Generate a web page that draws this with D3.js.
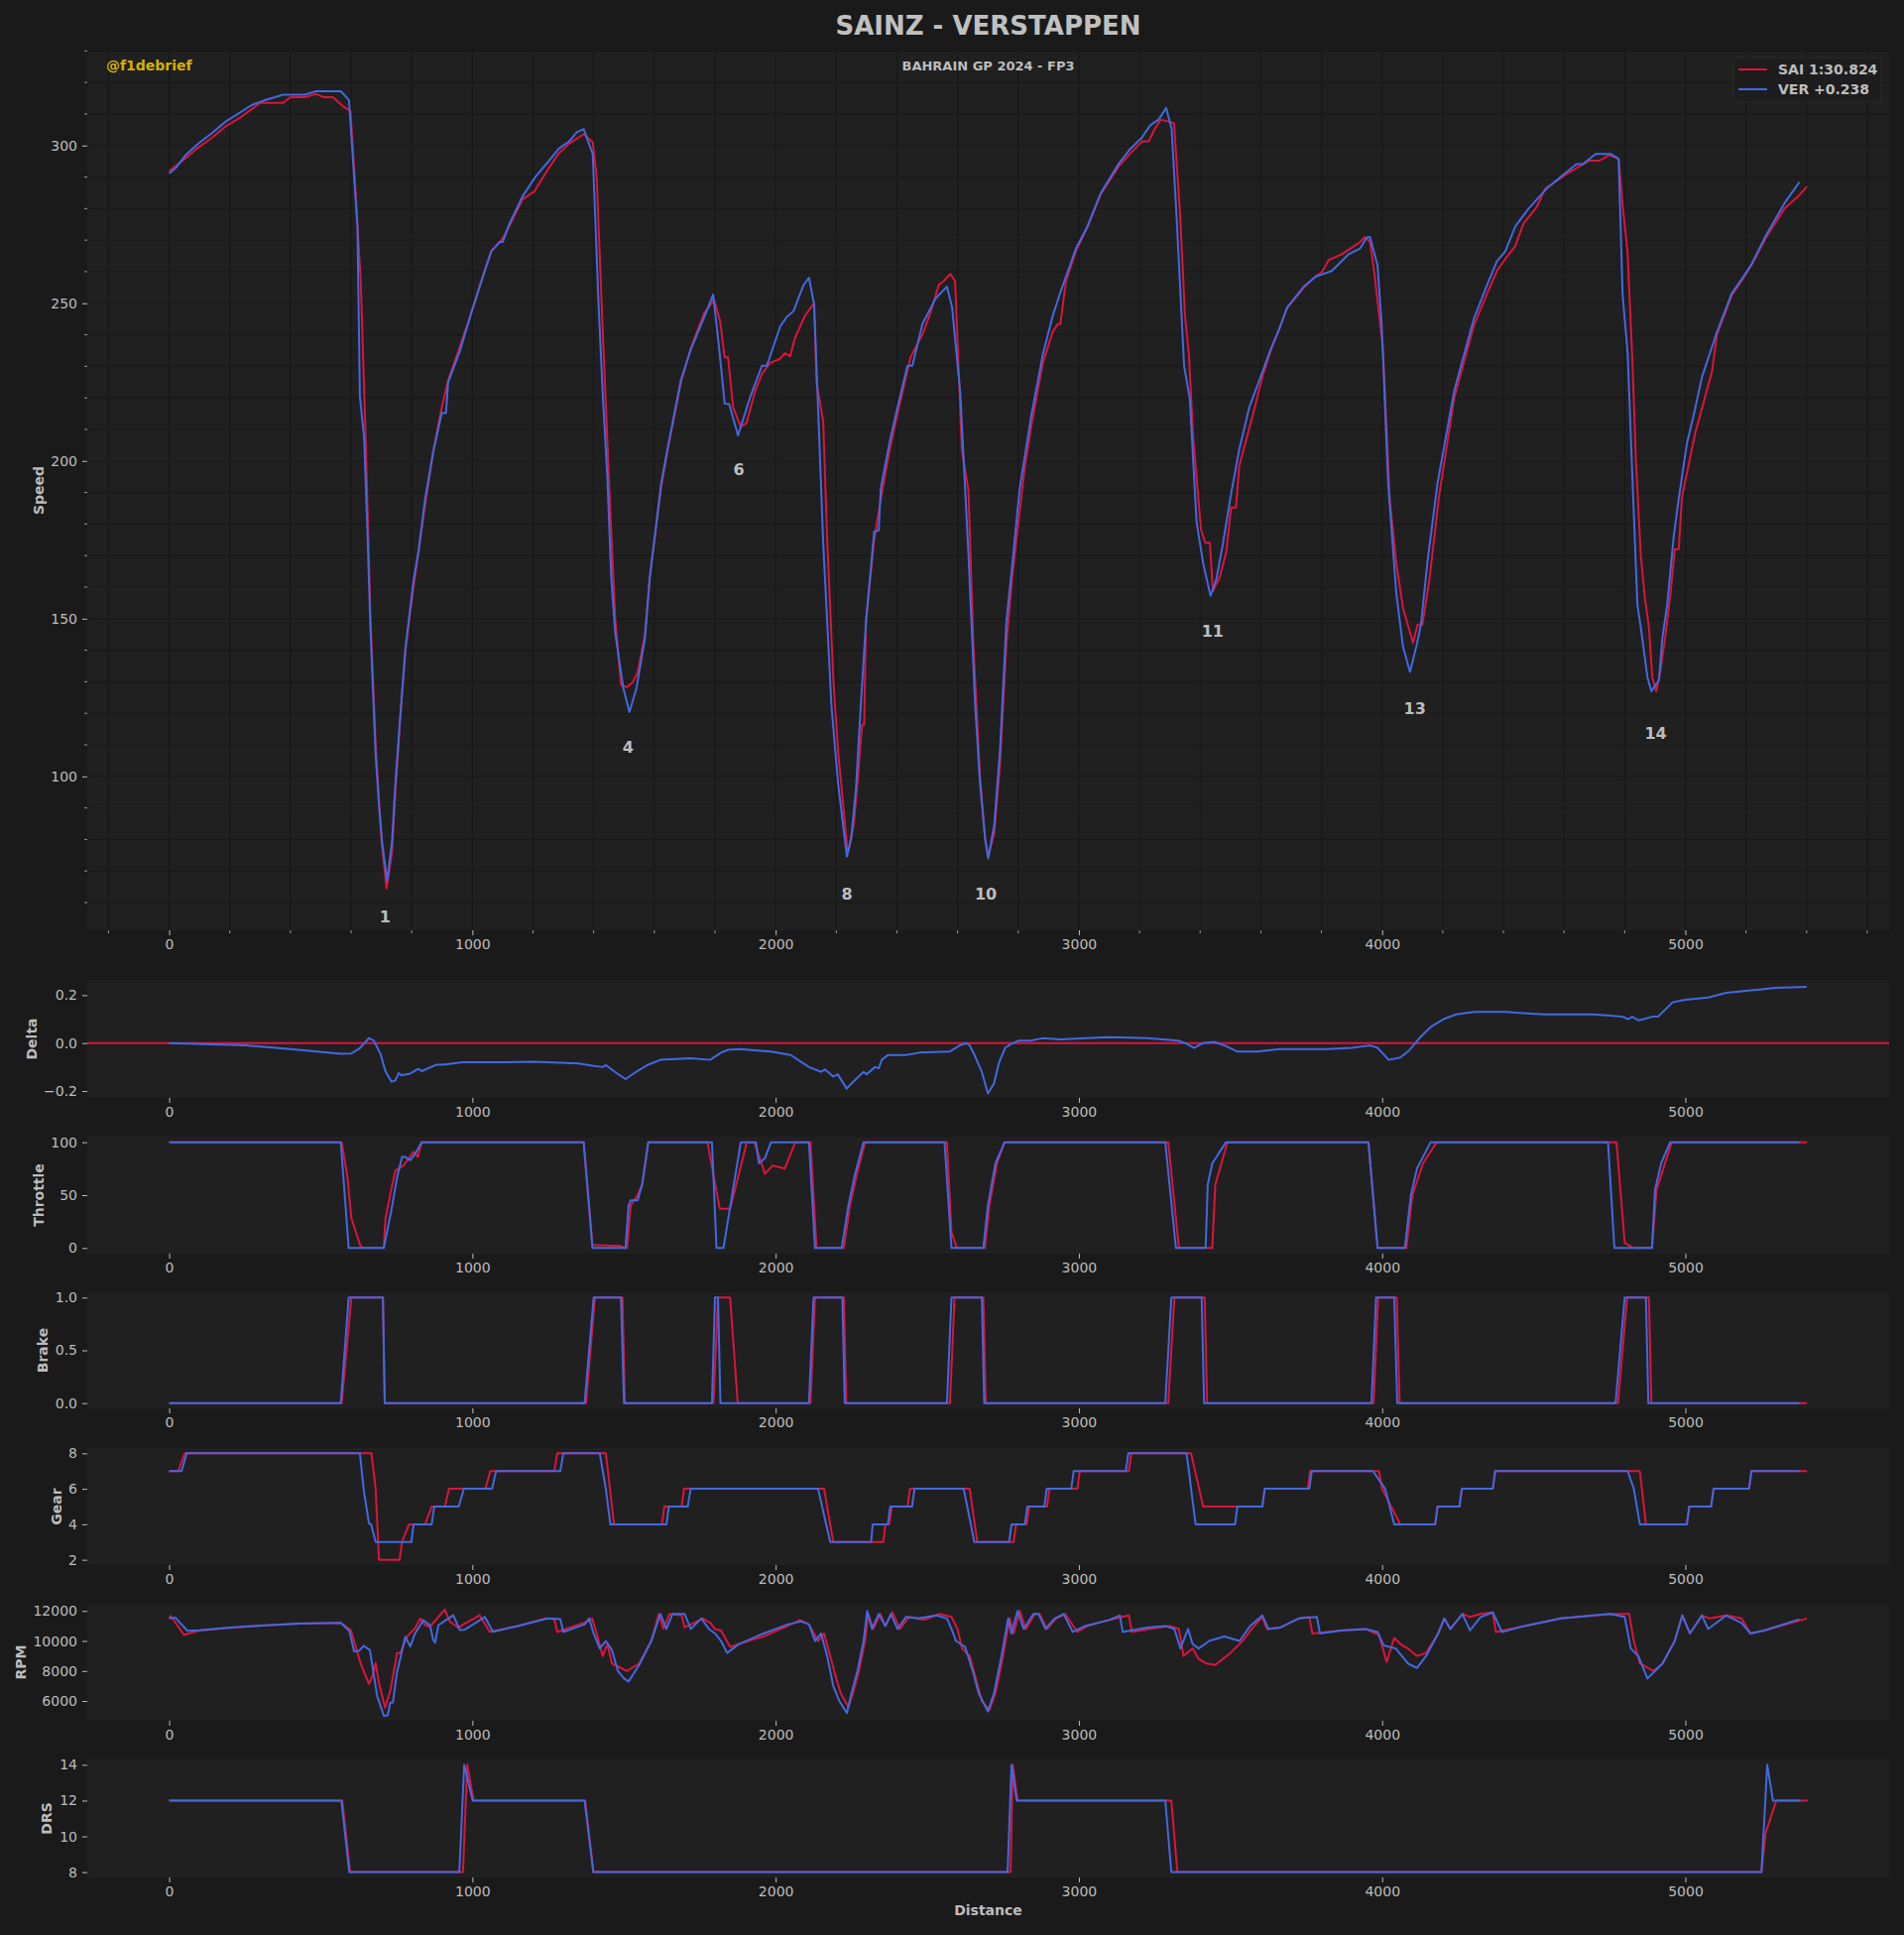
<!DOCTYPE html>
<html>
<head>
<meta charset="utf-8">
<script src="https://cdn.jsdelivr.net/npm/d3@7"></script>
<style>
  html, body { margin: 0; padding: 0; background: #1a1a1a; }
  svg text { font-family: "DejaVu Sans", sans-serif; }
</style>
</head>
<body>
<div id="vis"></div>
<script>
// ---- data (distance in m) ----
const distTicks = [0, 1000, 2000, 3000, 4000, 5000];

const saiSpeed = [[0,291.9],[22,293.5],[54,296],[98,299.5],[142,302.5],[185,306],[229,308.5],[272,311.5],[300,313.5],[376,313.5],[400,315.3],[447,315.3],[485,316.3],[510,315.3],[540,315.3],[575,312.3],[598,311],[615,285],[632,256.7],[648,207],[664,150],[681,110],[700,80],[717,64.4],[735,76],[746,95],[762,118],[779,140],[806,160],[822,171],[844,186],[871,203],[899,217],[920,225.5],[958,236],[1002,248.5],[1029,257],[1062,266.5],[1100,270.5],[1122,274.5],[1166,283],[1204,285.4],[1230,289.5],[1253,293],[1285,297.5],[1318,300.5],[1367,303.6],[1397,301],[1410,290],[1427,247.9],[1454,186],[1471,150],[1490,129],[1510,128.3],[1530,130],[1545,133],[1569,145],[1585,163],[1623,192],[1645,204],[1688,225],[1721,236],[1765,247],[1797,251],[1817,244.3],[1832,232.9],[1843,232.9],[1860,217],[1885,210.8],[1904,212],[1933,222.3],[1955,227.6],[1982,231.1],[2015,232.4],[2031,234.2],[2048,233.2],[2064,239],[2097,246.1],[2127,250],[2135,224.9],[2157,212.5],[2170,175],[2190,131.4],[2206,108],[2238,75.5],[2258,85],[2270,98],[2285,116.4],[2292,116.4],[2298,149],[2325,175],[2347,188],[2375,203],[2402,215],[2445,232.9],[2484,240],[2511,247],[2538,255.8],[2554,257],[2576,259.3],[2592,257],[2614,203.7],[2636,190.5],[2652,142],[2674,100],[2691,80],[2701,74.5],[2721,82],[2740,104],[2761,142],[2780,163],[2821,197.6],[2843,211],[2881,231],[2914,241],[2930,243.4],[2939,243.4],[2957,256.7],[2990,266.5],[3028,274],[3072,284.5],[3132,293.5],[3170,297.5],[3208,301.3],[3230,301.3],[3250,305.2],[3270,308.2],[3300,307.5],[3314,307],[3333,279.6],[3350,246.1],[3363,233.7],[3377,207.3],[3403,178.1],[3417,174.1],[3432,174.1],[3442,158.7],[3464,163],[3486,171.1],[3502,185.2],[3518,185.2],[3529,198.4],[3573,214.3],[3606,227],[3633,235],[3660,241.5],[3687,248.5],[3742,255],[3780,258.4],[3802,260],[3824,263.7],[3867,265.5],[3927,269.4],[3943,271],[3960,269.5],[3976,258.4],[4003,235.5],[4025,187.9],[4047,167.5],[4069,153.4],[4102,142.3],[4117,148.1],[4133,148.1],[4156,162.3],[4188,189],[4238,220],[4303,243],[4346,253],[4379,260.3],[4406,264],[4439,268.1],[4466,275.2],[4510,280.5],[4537,286.2],[4608,291],[4684,295.2],[4717,295.2],[4749,297],[4780,295.8],[4793,281.4],[4810,265.5],[4826,230.2],[4837,200.2],[4853,170.2],[4866,157],[4880,147.3],[4891,131.4],[4904,127],[4917,133],[4933,143.7],[4951,157.9],[4965,172],[4978,172],[4989,188.7],[5033,209],[5088,228.4],[5104,240],[5153,252.5],[5185,257],[5218,262],[5267,271],[5327,280],[5376,284.3],[5401,287]];

const verSpeed = [[0,291.1],[22,292.9],[54,296.9],[98,300.8],[142,304],[185,307.5],[229,310.2],[272,312.8],[316,314.4],[376,316.1],[447,316.1],[485,317.2],[566,317.2],[593,314.4],[621,274.3],[629,220.5],[643,207.3],[654,177.3],[664,146.4],[681,106.7],[692,90.8],[703,78.5],[719,67],[735,79.3],[746,97.8],[762,119],[779,140.2],[806,162.3],[822,171.1],[844,187.9],[871,202.9],[899,215.2],[913,215.2],[920,224.9],[958,234.6],[1002,248.7],[1029,256.7],[1062,266.4],[1090,269.4],[1100,269.4],[1122,275.2],[1166,284],[1209,290.2],[1253,295.2],[1285,299],[1318,301.2],[1345,304.3],[1367,305.2],[1397,297.3],[1416,250],[1430,221],[1445,195],[1458,163],[1471,145.5],[1498,127.9],[1518,120.4],[1541,127.9],[1569,143.7],[1585,163.1],[1623,193.1],[1645,204.6],[1688,225.8],[1721,235.5],[1765,245.7],[1794,252.8],[1814,235.5],[1832,218.2],[1847,218],[1876,208.1],[1917,220.5],[1955,230.2],[1971,230.2],[2015,242.6],[2037,245.7],[2059,247.5],[2092,255.8],[2110,258.1],[2127,249.6],[2141,214.3],[2157,173.8],[2184,122.5],[2206,97.8],[2235,74.6],[2249,80.2],[2265,96.1],[2282,124.3],[2298,149],[2325,177.6],[2340,178],[2347,191.4],[2375,205.5],[2402,217],[2435,230.2],[2451,230.2],[2484,243.4],[2527,251.4],[2565,255.3],[2582,248.7],[2609,221.4],[2636,170.2],[2658,122.5],[2674,97.8],[2691,80.2],[2701,74],[2721,84.6],[2740,108.4],[2761,149],[2780,166.7],[2805,191.4],[2843,214.3],[2881,233.7],[2914,246.1],[2941,254],[2974,262.9],[2990,267.3],[3028,274.3],[3072,284.9],[3132,294.3],[3170,299],[3208,302.5],[3235,306.4],[3263,308.2],[3288,311.9],[3306,305.2],[3322,277.9],[3347,230.2],[3366,219.6],[3388,180.8],[3410,167.5],[3434,157.3],[3453,162.3],[3475,173.7],[3502,189.6],[3529,203.7],[3562,217],[3606,228.4],[3633,235.5],[3660,241.7],[3687,248.7],[3742,255.3],[3780,258.4],[3834,260.2],[3889,265.5],[3927,267.3],[3949,270.8],[3960,271],[3985,262],[3998,244.3],[4020,193.1],[4036,172],[4047,157.9],[4069,141.1],[4092,133.1],[4115,142],[4128,148.1],[4150,168.4],[4183,193.1],[4238,222.3],[4303,245.2],[4346,255.8],[4379,263.4],[4406,266.4],[4439,274.3],[4483,280],[4542,286.3],[4608,291.6],[4641,294.1],[4662,294.1],[4704,297.3],[4755,297.3],[4780,295.8],[4793,253.1],[4810,233.7],[4826,193.1],[4842,154.3],[4853,147.3],[4875,131.4],[4888,127],[4913,130.5],[4924,143.7],[4940,154.3],[4962,176.4],[4978,187.9],[5005,205.5],[5027,214.3],[5055,226.7],[5104,240.8],[5153,253.1],[5185,257.5],[5218,262.3],[5267,271.7],[5327,281.7],[5376,288.4]];

const verDelta = [[0,0],[256,-0.01],[400,-0.025],[566,-0.045],[600,-0.044],[630,-0.02],[659,0.021],[675,0.01],[697,-0.045],[713,-0.117],[733,-0.161],[746,-0.156],[757,-0.125],[766,-0.135],[795,-0.127],[822,-0.107],[833,-0.117],[882,-0.09],[904,-0.09],[969,-0.08],[1078,-0.08],[1200,-0.078],[1350,-0.085],[1400,-0.095],[1430,-0.1],[1440,-0.092],[1470,-0.12],[1505,-0.15],[1540,-0.12],[1580,-0.09],[1620,-0.07],[1720,-0.063],[1784,-0.07],[1820,-0.04],[1843,-0.028],[1884,-0.025],[1950,-0.032],[1985,-0.035],[2050,-0.05],[2110,-0.1],[2150,-0.12],[2163,-0.11],[2190,-0.14],[2205,-0.13],[2234,-0.19],[2265,-0.15],[2290,-0.12],[2300,-0.13],[2328,-0.1],[2340,-0.105],[2350,-0.07],[2370,-0.05],[2430,-0.05],[2474,-0.04],[2575,-0.035],[2607,-0.01],[2630,0],[2640,-0.01],[2656,-0.05],[2680,-0.12],[2700,-0.21],[2720,-0.17],[2737,-0.08],[2757,-0.02],[2775,-0.005],[2802,0.01],[2840,0.01],[2880,0.02],[2940,0.015],[3022,0.02],[3103,0.025],[3225,0.02],[3327,0.01],[3350,0],[3380,-0.02],[3410,0],[3446,0.005],[3480,-0.01],[3522,-0.035],[3590,-0.035],[3663,-0.025],[3744,-0.025],[3820,-0.025],[3900,-0.02],[3960,-0.01],[3985,-0.02],[4022,-0.07],[4060,-0.06],[4090,-0.03],[4130,0.03],[4163,0.07],[4203,0.1],[4244,0.12],[4305,0.13],[4407,0.13],[4530,0.12],[4690,0.12],[4752,0.115],[4792,0.11],[4812,0.1],[4825,0.11],[4845,0.095],[4864,0.1],[4890,0.11],[4910,0.11],[4930,0.135],[4958,0.17],[4995,0.18],[5075,0.19],[5136,0.21],[5217,0.22],[5298,0.23],[5400,0.235]];

const saiThrottle = [[0,100],[569,100],[588,67],[601,28],[631,2],[641,0],[708,0],[713,27],[730,52],[746,73],[773,78],[806,91],[820,86],[833,100],[1367,100],[1396,3],[1490,2],[1500,0],[1510,0],[1522,40],[1545,50],[1560,60],[1580,100],[1775,100],[1816,37],[1850,37],[1905,100],[1930,100],[1965,70],[1990,78],[2030,75],[2065,100],[2115,100],[2135,0],[2225,0],[2245,40],[2268,70],[2295,100],[2565,100],[2580,15],[2598,0],[2690,0],[2705,40],[2730,80],[2755,100],[3295,100],[3330,0],[3440,0],[3450,60],[3460,70],[3490,100],[3955,100],[3985,0],[4080,0],[4100,50],[4135,80],[4180,100],[4773,100],[4800,5],[4830,0],[4890,0],[4905,55],[4955,100],[5401,100]];
const verThrottle = [[0,100],[566,100],[592,0],[708,0],[733,36],[752,67],[768,86],[779,86],[795,83],[811,89],[833,100],[1367,100],[1396,0],[1505,0],[1515,40],[1522,45],[1545,45],[1560,60],[1580,100],[1790,100],[1805,0],[1828,0],[1885,100],[1935,100],[1945,80],[1965,85],[1985,100],[2110,100],[2130,0],[2218,0],[2240,40],[2262,70],[2290,100],[2557,100],[2580,0],[2685,0],[2700,40],[2725,80],[2755,100],[3285,100],[3320,0],[3418,0],[3425,60],[3440,80],[3485,100],[3955,100],[3985,0],[4075,0],[4095,50],[4115,75],[4160,100],[4745,100],[4766,0],[4890,0],[4900,55],[4920,80],[4950,100],[5376,100]];

const saiBrake = [[0,0],[569,0],[601,1],[705,1],[711,0],[1375,0],[1404,1],[1495,1],[1503,0],[1795,0],[1810,1],[1850,1],[1875,0],[2115,0],[2130,1],[2225,1],[2233,0],[2575,0],[2590,1],[2685,1],[2693,0],[3295,0],[3315,1],[3415,1],[3423,0],[3972,0],[3987,1],[4048,1],[4058,0],[4778,0],[4808,1],[4880,1],[4888,0],[5401,0]];
const verBrake = [[0,0],[566,0],[592,1],[705,1],[711,0],[1370,0],[1400,1],[1490,1],[1500,0],[1790,0],[1800,1],[1810,1],[1818,0],[2110,0],[2125,1],[2220,1],[2228,0],[2565,0],[2580,1],[2680,1],[2688,0],[3285,0],[3305,1],[3405,1],[3413,0],[3965,0],[3980,1],[4040,1],[4050,0],[4770,0],[4800,1],[4870,1],[4878,0],[5376,0]];

const saiGear = [[0,7],[30,7],[51,8],[667,8],[681,6],[692,2],[760,2],[768,3],[791,4],[844,4],[866,5],[909,5],[923,6],[1043,6],[1059,7],[1270,7],[1280,8],[1440,8],[1447,7],[1467,4],[1625,4],[1633,5],[1690,5],[1698,6],[2160,6],[2190,3],[2355,3],[2362,4],[2375,4],[2383,5],[2435,5],[2443,6],[2640,6],[2665,3],[2785,3],[2793,4],[2828,4],[2836,5],[2895,5],[2903,6],[2995,6],[3003,7],[3165,7],[3173,8],[3370,8],[3410,5],[3605,5],[3613,6],[3755,6],[3763,7],[3990,7],[4000,6],[4060,4],[4175,4],[4183,5],[4255,5],[4263,6],[4365,6],[4373,7],[4850,7],[4870,4],[5005,4],[5013,5],[5085,5],[5093,6],[5210,6],[5218,7],[5401,7]];
const verGear = [[0,7],[41,7],[58,8],[629,8],[642,5.9],[659,4.05],[666,4],[681,3],[799,3],[806,4],[866,4],[874,5],[955,5],[972,6],[1065,6],[1078,7],[1290,7],[1300,8],[1420,8],[1430,7],[1440,6],[1455,4],[1640,4],[1648,5],[1710,5],[1720,6],[2140,6],[2180,3],[2315,3],[2320,4],[2370,4],[2378,5],[2450,5],[2458,6],[2620,6],[2632,5],[2655,3],[2770,3],[2778,4],[2822,4],[2830,5],[2886,5],[2894,6],[2975,6],[2983,7],[3155,7],[3163,8],[3355,8],[3363,7],[3370,6],[3385,4],[3515,4],[3523,5],[3605,5],[3613,6],[3760,6],[3768,7],[3970,7],[4010,6],[4040,4],[4175,4],[4183,5],[4255,5],[4263,6],[4365,6],[4373,7],[4810,7],[4830,6],[4850,4],[5005,4],[5013,5],[5085,5],[5093,6],[5210,6],[5218,7],[5376,7]];

const saiRpm = [[0,11500],[5,11670],[49,10400],[98,10700],[200,10880],[320,11050],[430,11160],[566,11210],[599,10725],[631,8530],[659,7140],[670,7650],[681,8530],[692,7200],[712,5560],[729,6660],[746,8530],[751,9190],[762,9190],[784,10290],[811,10840],[828,11495],[844,11055],[860,10945],[909,12090],[926,11275],[953,10900],[1024,11710],[1057,10615],[1150,11000],[1240,11500],[1270,11450],[1280,10600],[1380,11300],[1395,11500],[1410,10500],[1430,9000],[1445,9800],[1460,8500],[1480,8300],[1510,8000],[1550,8500],[1590,10000],[1615,11800],[1630,10800],[1650,11800],[1690,11700],[1700,10900],[1760,11500],[1785,11200],[1800,10800],[1820,10700],[1850,9600],[1880,9800],[1960,10300],[2040,11000],[2080,11400],[2110,11100],[2140,10000],[2160,10500],[2180,9000],[2200,7500],[2215,6500],[2240,5600],[2255,6500],[2275,8000],[2295,10000],[2305,11800],[2322,10800],[2345,11800],[2362,11000],[2385,11900],[2410,10800],[2440,11600],[2490,11400],[2540,11800],[2580,11600],[2600,10800],[2615,9500],[2640,9000],[2660,7500],[2680,6000],[2705,5400],[2725,6500],[2750,9000],[2772,11500],[2785,10500],[2805,12000],[2825,10800],[2855,11800],[2870,11800],[2895,10800],[2925,11500],[2955,11800],[2995,10600],[3030,11000],[3100,11400],[3165,11700],[3175,10600],[3230,10800],[3300,11000],[3330,10800],[3345,9000],[3375,9500],[3395,8800],[3420,8500],[3450,8400],[3500,9200],[3540,10000],[3570,10800],[3605,11600],[3620,10800],[3665,10900],[3725,11500],[3760,11600],[3770,10500],[3865,10700],[3945,10800],[3990,10400],[4015,8600],[4040,10200],[4060,9800],[4085,9500],[4115,9000],[4145,9200],[4185,10500],[4205,11500],[4225,10800],[4265,11800],[4290,11600],[4325,11800],[4365,11900],[4375,10600],[4470,11000],[4590,11500],[4760,11800],[4815,11800],[4830,10000],[4850,8500],[4895,8000],[4925,8500],[4965,10000],[4990,11700],[5015,10500],[5055,11700],[5080,11500],[5135,11700],[5185,11500],[5215,10500],[5260,10700],[5401,11500]];
const verRpm = [[0,11500],[20,11560],[60,10680],[100,10720],[200,10900],[320,11050],[430,11160],[566,11210],[594,10680],[610,9300],[626,9340],[642,9670],[662,9400],[686,6330],[708,5010],[721,5050],[729,5890],[738,5900],[751,7870],[779,10290],[795,9630],[811,10500],[838,11380],[860,11055],[871,10070],[877,9890],[888,11055],[937,11710],[959,10725],[975,10750],[1041,11600],[1068,10615],[1150,11000],[1250,11500],[1290,11450],[1300,10600],[1370,11100],[1385,11500],[1400,10500],[1420,9500],[1440,10000],[1460,9400],[1480,8000],[1500,7500],[1515,7300],[1550,8400],[1590,10000],[1620,11800],[1640,10800],[1660,11800],[1700,11800],[1720,10800],[1755,11500],[1780,10800],[1800,10500],[1820,10000],[1840,9200],[1880,9800],[1960,10500],[2040,11100],[2085,11300],[2110,11100],[2130,10000],[2150,10500],[2170,9000],[2190,7000],[2210,6000],[2235,5200],[2250,6500],[2270,8000],[2290,10000],[2302,12000],[2318,10800],[2340,11800],[2362,11000],[2380,11800],[2402,10800],[2430,11600],[2470,11500],[2530,11700],[2565,11500],[2580,10800],[2595,10000],[2625,9600],[2650,8000],[2670,6500],[2700,5300],[2720,6500],[2745,9000],[2767,11500],[2778,10500],[2798,12000],[2818,10800],[2850,11800],[2867,11800],[2890,10800],[2920,11500],[2950,11800],[2980,10600],[3020,11000],[3100,11400],[3135,11700],[3145,10600],[3225,10900],[3285,11000],[3315,10800],[3335,9500],[3360,10800],[3375,9800],[3395,9500],[3430,10000],[3480,10300],[3530,10000],[3565,11000],[3605,11700],[3625,10800],[3665,10900],[3725,11500],[3785,11600],[3795,10500],[3865,10700],[3945,10800],[3985,10600],[4005,9700],[4045,9500],[4085,8500],[4115,8200],[4145,9000],[4185,10500],[4205,11500],[4225,10800],[4265,11800],[4290,10700],[4325,11600],[4365,11900],[4395,10600],[4470,11000],[4590,11500],[4750,11800],[4800,11600],[4820,9500],[4845,9000],[4875,7500],[4925,8500],[4965,10000],[4990,11700],[5015,10500],[5055,11700],[5075,10800],[5135,11700],[5185,11200],[5215,10500],[5260,10700],[5376,11450]];

const saiDrs = [[0,12],[571,12],[597,8],[969,8],[983,14],[1004,12],[1372,12],[1399,8],[2775,8],[2782,14],[2798,12],[3305,12],[3325,8],[5251,8],[5265,10.2],[5300,12],[5404,12]];
const verDrs = [[0,12],[568,12],[594,8],[957,8],[973,14],[1001,12],[1370,12],[1399,8],[2765,8],[2778,14],[2795,12],[3285,12],[3305,8],[5251,8],[5270,14],[5289,12],[5380,12]];

const cornerNames = ["1", "4", "6", "8", "10", "11", "13", "14"];
const cornerDist = [712, 1513, 1879, 2235, 2693, 3441, 4108, 4902];
const cornerSpeed = [55.6, 109.3, 197.4, 62.8, 62.8, 146.1, 121.6, 113.7];

const drivers = ["SAI 1:30.824", "VER +0.238"];

// ---- drawing ----
const W = 1920, H = 1951;
const RED = "#dc143c", BLUE = "#4169e1";
const TXT = "#bdbdbd";
const left = 88, right = 1905;

const svg = d3.select("#vis").append("svg")
  .attr("width", W).attr("height", H)
  .style("display", "block");
svg.append("rect").attr("width", W).attr("height", H).attr("fill", "#1a1a1a");

const x = d3.scaleLinear().domain([-270, 5672]).range([left, right]);

var panels = [
  {label: "Speed", top: 51, bottom: 938, domain: [51.2, 330.1], ticks: [100,150,200,250,300], fmt: d3.format("d"), minor: true, labelX: 39, sai: saiSpeed, ver: verSpeed},
  {label: "Delta", top: 988, bottom: 1107, domain: [-0.2288, 0.2636], ticks: [-0.2,0,0.2], fmt: d3.format(".1f"), labelX: 32, ver: verDelta},
  {label: "Throttle", top: 1146, bottom: 1264, domain: [-5.3, 105.3], ticks: [0,50,100], fmt: d3.format("d"), labelX: 39, sai: saiThrottle, ver: verThrottle},
  {label: "Brake", top: 1303, bottom: 1420, domain: [-0.05, 1.05], ticks: [0,0.5,1], fmt: d3.format(".1f"), labelX: 43, sai: saiBrake, ver: verBrake},
  {label: "Gear", top: 1460, bottom: 1578, domain: [1.7, 8.3], ticks: [2,4,6,8], fmt: d3.format("d"), labelX: 57, sai: saiGear, ver: verGear},
  {label: "RPM", top: 1617, bottom: 1735, domain: [4682, 12481], ticks: [6000,8000,10000,12000], fmt: d3.format("d"), labelX: 21, sai: saiRpm, ver: verRpm},
  {label: "DRS", top: 1774, bottom: 1893, domain: [7.7, 14.3], ticks: [8,10,12,14], fmt: d3.format("d"), labelX: 47, sai: saiDrs, ver: verDrs}
];

panels.forEach(p => {
  var y = d3.scaleLinear().domain(p.domain).range([p.bottom, p.top]);
  var g = svg.append("g");

  g.append("rect")
    .attr("x", left).attr("y", p.top)
    .attr("width", right - left).attr("height", p.bottom - p.top)
    .attr("fill", "#202020");

  if (p.minor) {
    var xg = d3.range(-200, 5601, 200);
    var yg = d3.range(60, 331, 10);
    g.selectAll(".vg").data(xg).join("line")
      .attr("x1", d => x(d)).attr("x2", d => x(d))
      .attr("y1", p.top).attr("y2", p.bottom)
      .attr("stroke", "#181818").attr("stroke-width", 1.2);
    g.selectAll(".hg").data(yg).join("line")
      .attr("x1", left).attr("x2", right)
      .attr("y1", d => y(d)).attr("y2", d => y(d))
      .attr("stroke", "#181818").attr("stroke-width", 1.2);
    // minor ticks
    g.selectAll(".mx").data(xg.filter(d => d % 1000 != 0)).join("line")
      .attr("x1", d => x(d)).attr("x2", d => x(d))
      .attr("y1", p.bottom).attr("y2", p.bottom + 3)
      .attr("stroke", "#9a9a9a").attr("stroke-width", 1);
    g.selectAll(".my").data(yg.filter(d => d % 50 != 0)).join("line")
      .attr("x1", left - 3).attr("x2", left)
      .attr("y1", d => y(d)).attr("y2", d => y(d))
      .attr("stroke", "#9a9a9a").attr("stroke-width", 1);
  }

  // y axis
  var ya = d3.axisLeft(y).tickValues(p.ticks).tickSize(5).tickPadding(5)
    .tickFormat(d => p.fmt(d).replace("-", "\u2212"));
  var yAxis = g.append("g").attr("transform", "translate(" + left + ",0)").call(ya);
  // x axis
  var xa = d3.axisBottom(x).tickValues(distTicks).tickSize(5).tickPadding(4)
    .tickFormat(d3.format("d"));
  var xAxis = g.append("g").attr("transform", "translate(0," + p.bottom + ")").call(xa);
  [yAxis, xAxis].forEach(a => {
    a.select(".domain").remove();
    a.selectAll(".tick line").attr("stroke", "#bdbdbd").attr("stroke-width", 1);
    a.selectAll(".tick text").attr("fill", TXT).style("font-size", "14px")
      .style("font-family", "DejaVu Sans");
  });

  g.append("text")
    .attr("transform", "translate(" + p.labelX + "," + (p.top + p.bottom) / 2 + ") rotate(-90)")
    .attr("text-anchor", "middle").attr("dominant-baseline", "central")
    .attr("fill", TXT).style("font-size", "14px").style("font-weight", "bold")
    .text(p.label);

  var clip = "clip" + p.label;
  g.append("clipPath").attr("id", clip).append("rect")
    .attr("x", left).attr("y", p.top).attr("width", right - left).attr("height", p.bottom - p.top);

  var line = d3.line().x(d => x(d[0])).y(d => y(d[1]));

  if (p.label == "Delta") {
    g.append("line").attr("x1", left).attr("x2", right)
      .attr("y1", y(0)).attr("y2", y(0))
      .attr("stroke", RED).attr("stroke-width", 2);
  } else {
    g.append("path").datum(p.sai)
      .attr("clip-path", "url(#" + clip + ")")
      .attr("fill", "none").attr("stroke", RED).attr("stroke-width", 2)
      .attr("stroke-linejoin", "round")
      .attr("d", line);
  }
  g.append("path").datum(p.ver)
    .attr("clip-path", "url(#" + clip + ")")
    .attr("fill", "none").attr("stroke", BLUE).attr("stroke-width", 2)
    .attr("stroke-linejoin", "round")
    .attr("d", line);

  if (p.label == "Speed") {
    g.selectAll(".corner").data(cornerNames).join("text")
      .attr("x", (d, i) => x(cornerDist[i]))
      .attr("y", (d, i) => y(cornerSpeed[i]))
      .attr("text-anchor", "middle").attr("dominant-baseline", "central")
      .attr("fill", "#bdbdbd").style("font-size", "16px").style("font-weight", "bold")
      .text(d => d);

    g.append("text").attr("x", 107).attr("y", 71)
      .attr("fill", "#d4b106").style("font-size", "14px").style("font-weight", "bold")
      .text("@f1debrief");
    g.append("text").attr("x", (left + right) / 2).attr("y", 71)
      .attr("text-anchor", "middle")
      .attr("fill", TXT).style("font-size", "13px").style("font-weight", "bold")
      .text("BAHRAIN GP 2024 - FP3");

    // legend
    var lg = g.append("g");
    lg.append("rect").attr("x", 1748).attr("y", 58).attr("width", 149).attr("height", 45)
      .attr("rx", 2).attr("fill", "#1d1d1d").attr("stroke", "#2a2a2a");
    [RED, BLUE].forEach((c, i) => {
      lg.append("line").attr("x1", 1753).attr("x2", 1782)
        .attr("y1", 70 + i * 20).attr("y2", 70 + i * 20)
        .attr("stroke", c).attr("stroke-width", 2);
      lg.append("text").attr("x", 1793).attr("y", 75 + i * 20)
        .attr("fill", TXT).style("font-size", "14px").style("font-weight", "bold")
        .text(drivers[i]);
    });
  }
});

// suptitle sits over the plotting area, not the page centre
svg.append("text").attr("x", (left + right) / 2).attr("y", 35)
  .attr("text-anchor", "middle")
  .attr("fill", "#c0c0c0").style("font-size", "26px").style("font-weight", "bold")
  .text("SAINZ - VERSTAPPEN");

svg.append("text").attr("x", (left + right) / 2).attr("y", 1931)
  .attr("text-anchor", "middle")
  .attr("fill", TXT).style("font-size", "14px").style("font-weight", "bold")
  .text("Distance");
</script>
</body>
</html>
